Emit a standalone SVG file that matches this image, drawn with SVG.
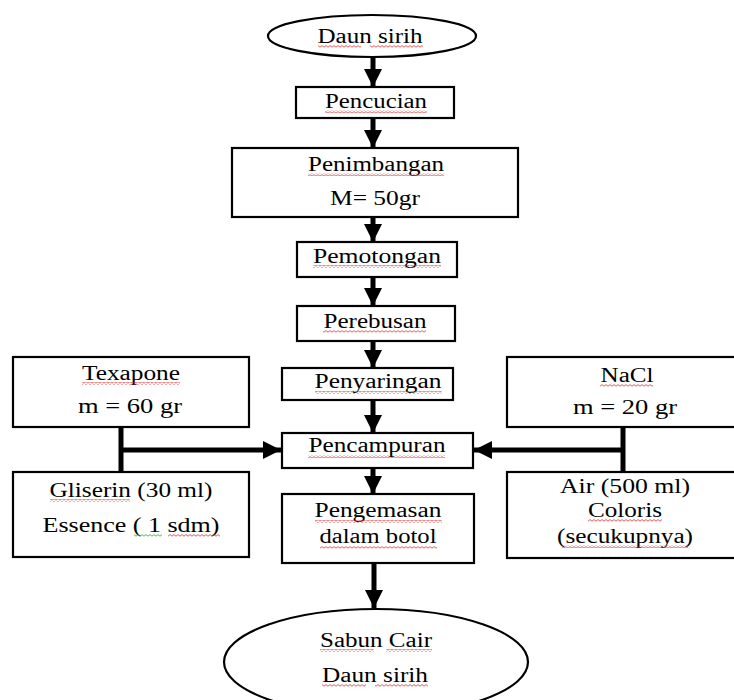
<svg xmlns="http://www.w3.org/2000/svg" width="734" height="700" viewBox="0 0 734 700">
<style>
.box{fill:#fff;stroke:#000;stroke-width:2.2}
.t{font-family:"Liberation Serif","Times New Roman",serif;font-size:20px;fill:#000;text-anchor:middle}
.ln{stroke:#000;stroke-width:5;fill:none}
.sq{fill:url(#wavy)}
.sg{fill:url(#wavyg)}
</style>
<defs>
<pattern id="wavy" width="4" height="3" patternUnits="userSpaceOnUse">
<path d="M0 2.2 L2 0.6 L4 2.2" fill="none" stroke="#e03030" stroke-width="0.8"/>
</pattern>
<pattern id="wavyg" width="4" height="3" patternUnits="userSpaceOnUse">
<path d="M0 2.2 L2 0.6 L4 2.2" fill="none" stroke="#30a030" stroke-width="0.8"/>
</pattern>
<marker id="ah" markerUnits="userSpaceOnUse" markerWidth="20" markerHeight="20" viewBox="0 0 20 20" refX="18" refY="10" orient="auto">
<path d="M0 1 L18 10 L0 19 Z" fill="#000"/>
</marker>
</defs>

<g id="connectors">
<line class="ln" x1="373" y1="57" x2="373" y2="87" marker-end="url(#ah)"/>
<line class="ln" x1="373" y1="118" x2="373" y2="148" marker-end="url(#ah)"/>
<line class="ln" x1="373" y1="217" x2="373" y2="242" marker-end="url(#ah)"/>
<line class="ln" x1="373" y1="277" x2="373" y2="306" marker-end="url(#ah)"/>
<line class="ln" x1="373" y1="341" x2="373" y2="368" marker-end="url(#ah)"/>
<line class="ln" x1="373" y1="400" x2="373" y2="433" marker-end="url(#ah)"/>
<line class="ln" x1="373" y1="468" x2="373" y2="494" marker-end="url(#ah)"/>
<line class="ln" x1="374" y1="563" x2="374" y2="608" marker-end="url(#ah)"/>
<line class="ln" x1="121" y1="427" x2="121" y2="472"/>
<line class="ln" x1="119" y1="450" x2="281" y2="450" marker-end="url(#ah)"/>
<line class="ln" x1="623" y1="427" x2="623" y2="472"/>
<line class="ln" x1="625" y1="450" x2="474" y2="450" marker-end="url(#ah)"/>
</g>

<g id="start">
<ellipse class="box" cx="372" cy="36" rx="104" ry="21"/>
<text class="t" x="370" y="43" textLength="105" lengthAdjust="spacingAndGlyphs">Daun sirih</text>
<rect class="sq" x="318" y="45" width="43" height="3"/><rect class="sq" x="370" y="45" width="53" height="3"/>
</g>

<g id="pencucian">
<rect class="box" x="296" y="87" width="158" height="31"/>
<text class="t" x="376" y="108" textLength="102" lengthAdjust="spacingAndGlyphs">Pencucian</text>
<rect class="sq" x="325" y="110" width="102" height="3"/>
</g>

<g id="penimbangan">
<rect class="box" x="232" y="148" width="286" height="69"/>
<text class="t" x="376" y="171" textLength="136" lengthAdjust="spacingAndGlyphs">Penimbangan</text>
<rect class="sq" x="308" y="173" width="136" height="3"/>
<text class="t" x="375" y="205" textLength="90" lengthAdjust="spacingAndGlyphs">M= 50gr</text>
</g>

<g id="pemotongan">
<rect class="box" x="297" y="242" width="160" height="35"/>
<text class="t" x="377" y="263" textLength="128" lengthAdjust="spacingAndGlyphs">Pemotongan</text>
<rect class="sq" x="313" y="265" width="128" height="3"/>
</g>

<g id="perebusan">
<rect class="box" x="297" y="306" width="158" height="35"/>
<text class="t" x="375" y="328" textLength="103" lengthAdjust="spacingAndGlyphs">Perebusan</text>
<rect class="sq" x="323" y="330" width="103" height="3"/>
</g>

<g id="penyaringan">
<rect class="box" x="282" y="368" width="171" height="32"/>
<text class="t" x="378" y="388" textLength="127" lengthAdjust="spacingAndGlyphs">Penyaringan</text>
<rect class="sq" x="315" y="391" width="127" height="3"/>
</g>

<g id="pencampuran">
<rect class="box" x="282" y="433" width="191" height="35"/>
<text class="t" x="377" y="452" textLength="137" lengthAdjust="spacingAndGlyphs">Pencampuran</text>
<rect class="sq" x="308" y="455" width="137" height="3"/>
</g>

<g id="pengemasan">
<rect class="box" x="282" y="494" width="192" height="69"/>
<text class="t" x="378" y="517" textLength="127" lengthAdjust="spacingAndGlyphs">Pengemasan</text>
<rect class="sq" x="315" y="520" width="127" height="3"/>
<text class="t" x="378" y="543" textLength="117" lengthAdjust="spacingAndGlyphs">dalam botol</text>
<rect class="sq" x="320" y="546" width="117" height="3"/>
</g>

<g id="texapone">
<rect class="box" x="13" y="357" width="236" height="70"/>
<text class="t" x="131" y="380" textLength="98" lengthAdjust="spacingAndGlyphs">Texapone</text>
<rect class="sq" x="82" y="382" width="98" height="3"/>
<text class="t" x="130" y="413" textLength="104" lengthAdjust="spacingAndGlyphs">m = 60 gr</text>
</g>

<g id="gliserin">
<rect class="box" x="13" y="472" width="236" height="85"/>
<text class="t" x="131" y="497" textLength="163" lengthAdjust="spacingAndGlyphs">Gliserin  (30 ml)</text>
<rect class="sq" x="50" y="499" width="80" height="3"/>
<text class="t" x="131" y="532" textLength="177" lengthAdjust="spacingAndGlyphs">Essence ( 1 sdm)</text>
<rect class="sg" x="134" y="534" width="28" height="3"/><rect class="sq" x="168" y="534" width="52" height="3"/>
</g>

<g id="nacl">
<rect class="box" x="507" y="357" width="232" height="70"/>
<text class="t" x="627" y="382" textLength="53" lengthAdjust="spacingAndGlyphs">NaCl</text>
<rect class="sq" x="600" y="384" width="53" height="3"/>
<text class="t" x="625" y="414" textLength="104" lengthAdjust="spacingAndGlyphs">m = 20 gr</text>
</g>

<g id="air">
<rect class="box" x="507" y="472" width="232" height="86"/>
<text class="t" x="625" y="493" textLength="130" lengthAdjust="spacingAndGlyphs">Air (500 ml)</text>
<text class="t" x="625" y="517" textLength="74" lengthAdjust="spacingAndGlyphs">Coloris</text>
<rect class="sq" x="588" y="519" width="74" height="3"/>
<text class="t" x="625" y="543" textLength="136" lengthAdjust="spacingAndGlyphs">(secukupnya)</text>
<rect class="sq" x="562" y="545" width="126" height="3"/>
</g>

<g id="end">
<ellipse class="box" cx="376" cy="662" rx="152" ry="53"/>
<text class="t" x="376" y="647" textLength="112" lengthAdjust="spacingAndGlyphs">Sabun Cair</text>
<rect class="sq" x="320" y="649" width="54" height="3"/><rect class="sq" x="386" y="649" width="46" height="3"/>
<text class="t" x="375" y="682" textLength="106" lengthAdjust="spacingAndGlyphs">Daun sirih</text>
<rect class="sq" x="322" y="684" width="44" height="3"/><rect class="sq" x="375" y="684" width="53" height="3"/>
</g>
</svg>
